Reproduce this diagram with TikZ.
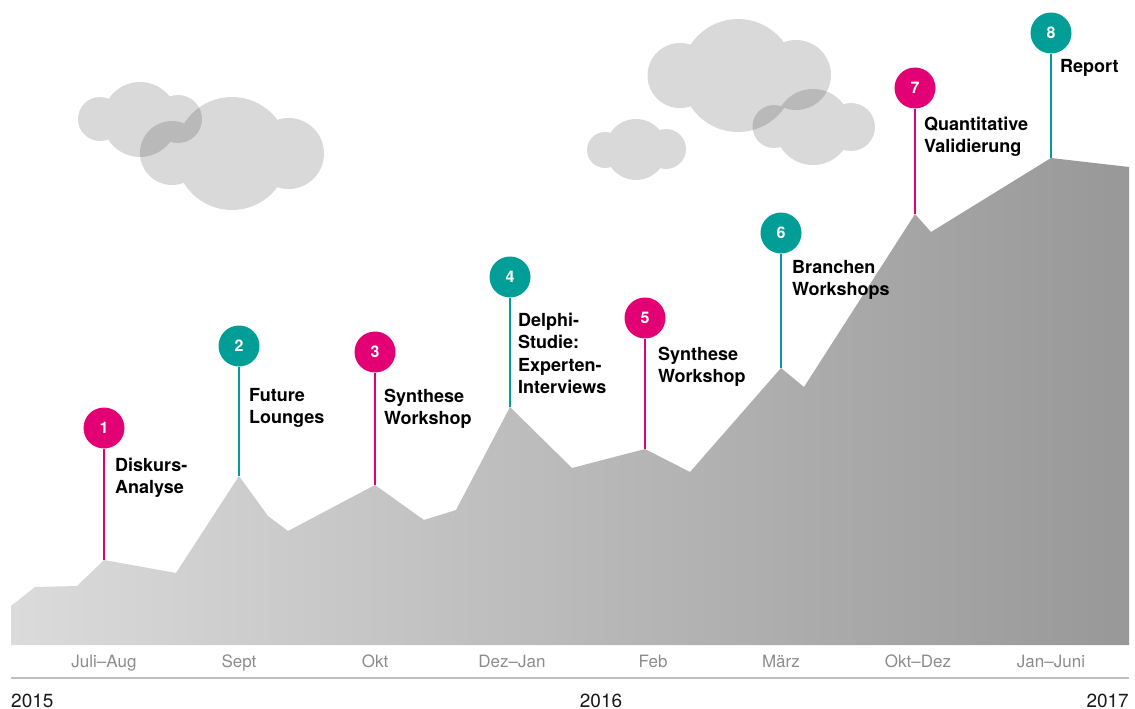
\documentclass[tikz,border=0pt]{standalone}
\usepackage{fontspec}
\setmainfont{TeX Gyre Heros}
\usepackage{xcolor}
\usepackage{tikz}
\usetikzlibrary{positioning}
\definecolor{phasemagenta}{RGB}{226,0,116}
\definecolor{phaseteal}{RGB}{0,158,150}
\definecolor{hillleft}{RGB}{219,219,219}
\definecolor{hillright}{RGB}{152,152,152}
\definecolor{monthgray}{RGB}{140,140,140}
\definecolor{rulegray}{RGB}{190,190,190}

\begin{document}
\begin{tikzpicture}[
    x=1pt, y=-1pt,
    cloud/.style={fill=black, fill opacity=0.15},
    marker/.style={circle, fill=#1, minimum size=41pt, inner sep=0pt, text=white,
        font=\bfseries\fontsize{16}{16}\selectfont},
    pin/.style={#1, line width=1.3pt},
    tasklabel/.style={anchor=base west, align=left, inner sep=0pt,
        font=\bfseries\fontsize{18}{22.5}\selectfont},
    month/.style={anchor=base, inner sep=0pt, text=monthgray,
        font=\fontsize{17}{17}\selectfont},
    year/.style={inner sep=0pt, text=black!90, font=\fontsize{19}{19}\selectfont}
]
    \useasboundingbox (0,0) rectangle (1135,709);

    % Clouds
    \fill[cloud] (100,119) circle[radius=22] (140,119.5) circle[radius=37.5] (178,119) circle[radius=24];
    \fill[cloud] (172,153) circle[radius=32] (232,153.5) circle[radius=56.5] (288.5,153.5) circle[radius=35.5];
    \fill[cloud] (605,150) circle[radius=18] (636,149.5) circle[radius=30.5] (666,149) circle[radius=20];
    \fill[cloud] (680,75.5) circle[radius=32.5] (738,75.5) circle[radius=56.5] (796,75) circle[radius=35];
    \fill[cloud] (774,126.5) circle[radius=21.5] (813,127) circle[radius=38] (851,127) circle[radius=24];

    % Hill profile
    \shade[left color=hillleft, right color=hillright]
        (11,645) -- (11,606) -- (35,587) -- (77,586) -- (104,560) -- (176,573)
        -- (239,476) -- (268,516) -- (288,531) -- (375,485) -- (424,520) -- (456,510)
        -- (510,407) -- (572,468) -- (645,449) -- (690,472) -- (781,368) -- (804,387)
        -- (915,214) -- (931,232) -- (1051,158) -- (1129,167) -- (1129,645) -- cycle;

    % Milestones (label base = baseline of the last line)
    \foreach \i/\x/\py/\cy/\col/\dx/\text/\base in {
        1/104/560/428/phasemagenta/11/{Diskurs-\\Analyse}/493.5,
        2/239/476/346/phaseteal/10/{Future\\Lounges}/423.5,
        3/375/485/352/phasemagenta/9/{Synthese\\Workshop}/424.5,
        4/510/407/277/phaseteal/8/{Delphi-\\Studie:\\Experten-\\Interviews}/393.5,
        5/645/449/318/phasemagenta/13/{Synthese\\Workshop}/382.5,
        6/781/368/233/phaseteal/11/{Branchen\\Workshops}/295.5,
        7/915/214/88/phasemagenta/9/{Quantitative\\Validierung}/152.5,
        8/1051/158/33/phaseteal/9/{Report}/73
    } {
        \coordinate (p\i) at (\x,\py);
        \node[marker=\col] (m\i) at (\x,\cy) {\i};
        \draw[pin=\col] (m\i) -- (p\i);
        \node[tasklabel] (t\i) at (\x+\dx,\base) {\text};
    }

    % Time axis
    \coordinate (axisl) at (11,678);
    \coordinate (axisr) at (1129,678);
    \draw[rulegray, line width=1.5pt] (axisl) -- (axisr);
    \foreach \x/\m in {104/Juli--Aug, 239/Sept, 375/Okt, 512/Dez--Jan,
                       653/Feb, 781/März, 918/Okt--Dez, 1051/Jan--Juni} {
        \node[month] at (\x,667) {\m};
    }
    \node[year, anchor=base west] (y2015) at (11,707) {2015};
    \node[year, anchor=base] (y2016) at (601,707) {2016};
    \node[year, anchor=base east] (y2017) at (1129,707) {2017};
\end{tikzpicture}
\end{document}
